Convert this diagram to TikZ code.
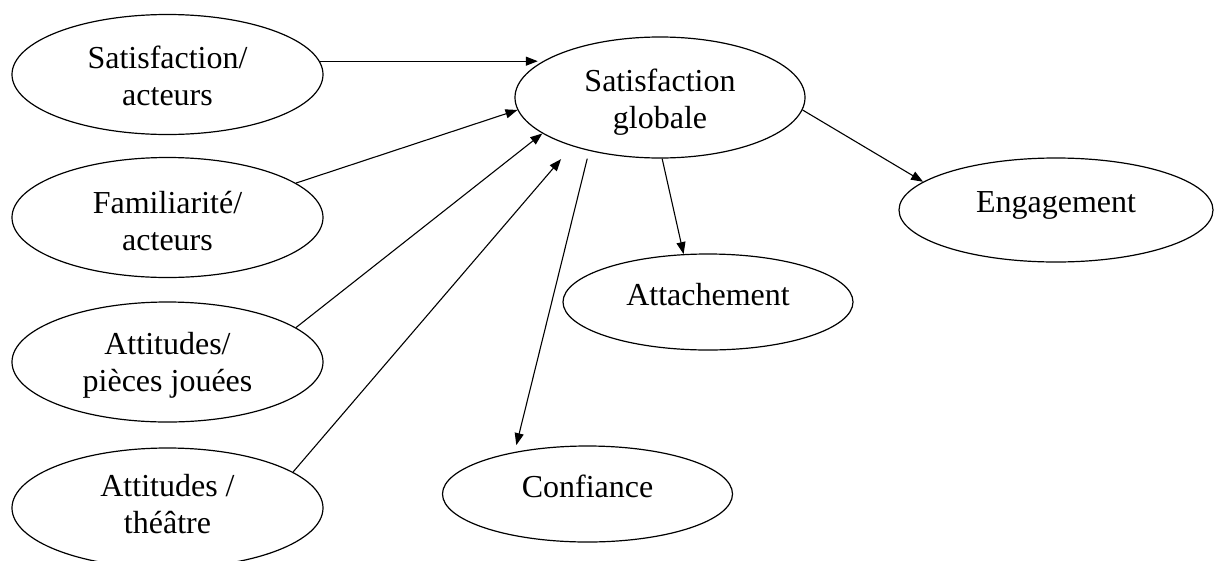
\documentclass[tikz,border=0pt]{standalone}
\usepackage{fontspec}
\setmainfont{Liberation Serif}
\usetikzlibrary{shapes.geometric,arrows.meta}
\begin{document}
\begin{tikzpicture}[x=1pt,y=-1pt,
  ell/.style={draw, ellipse, line width=1.2pt, inner sep=0pt},
  lbl/.style={font=\fontsize{32}{37}\selectfont, align=center, anchor=base, inner sep=0pt},
  arr/.style={-{Triangle[length=12pt,width=9pt]}, line width=1.1pt}]
\useasboundingbox (0,0) rectangle (1214,560);
% ellipses
\node[ell, minimum width=311pt, minimum height=120pt] (e1) at (167.5,74.5) {};
\node[ell, minimum width=311pt, minimum height=120pt] (e2) at (167.5,217.5) {};
\node[ell, minimum width=311pt, minimum height=120pt] (e3) at (167.5,362) {};
\node[ell, minimum width=311pt, minimum height=120pt] (e4) at (167.5,508) {};
\node[ell, minimum width=290pt, minimum height=121pt] (e5) at (660,97.5) {};
\node[ell, minimum width=314pt, minimum height=104pt] (e6) at (1056,210) {};
\node[ell, minimum width=290pt, minimum height=96pt] (e7) at (708,302) {};
\node[ell, minimum width=290pt, minimum height=96pt] (e8) at (587.5,494) {};
% labels (base = baseline of last line)
\node[lbl] (t1) at (167.5,105) {Satisfaction/\\acteurs};
\node[lbl] (t2) at (167.5,250) {Familiarité/\\acteurs};
\node[lbl] (t3) at (167.5,391) {Attitudes/\\pièces jouées};
\node[lbl] (t4) at (167.5,533) {Attitudes /\\théâtre};
\node[lbl] (t5) at (660,128) {Satisfaction\\globale};
\node[lbl] (t6) at (1056,212) {Engagement};
\node[lbl] (t7) at (708,305) {Attachement};
\node[lbl] (t8) at (587.5,497) {Confiance};
% connectors
\draw[arr, shorten >=2pt] (e1.5) -- (e1.5 -| e5.164);
\draw[arr] (e2.15) -- (e5.185);
\draw[arr] (e3.15) -- (e5.197);
\draw[arr, shorten >=17pt] (e4.16) -- (e5.209);
\draw[arr, shorten <=8pt, shorten >=7pt] (e5.217) -- (e8.150);
\draw[arr] (e5.272) -- (e7.117);
\draw[arr] (e5.355) -- (e6.168);
\end{tikzpicture}
\end{document}
